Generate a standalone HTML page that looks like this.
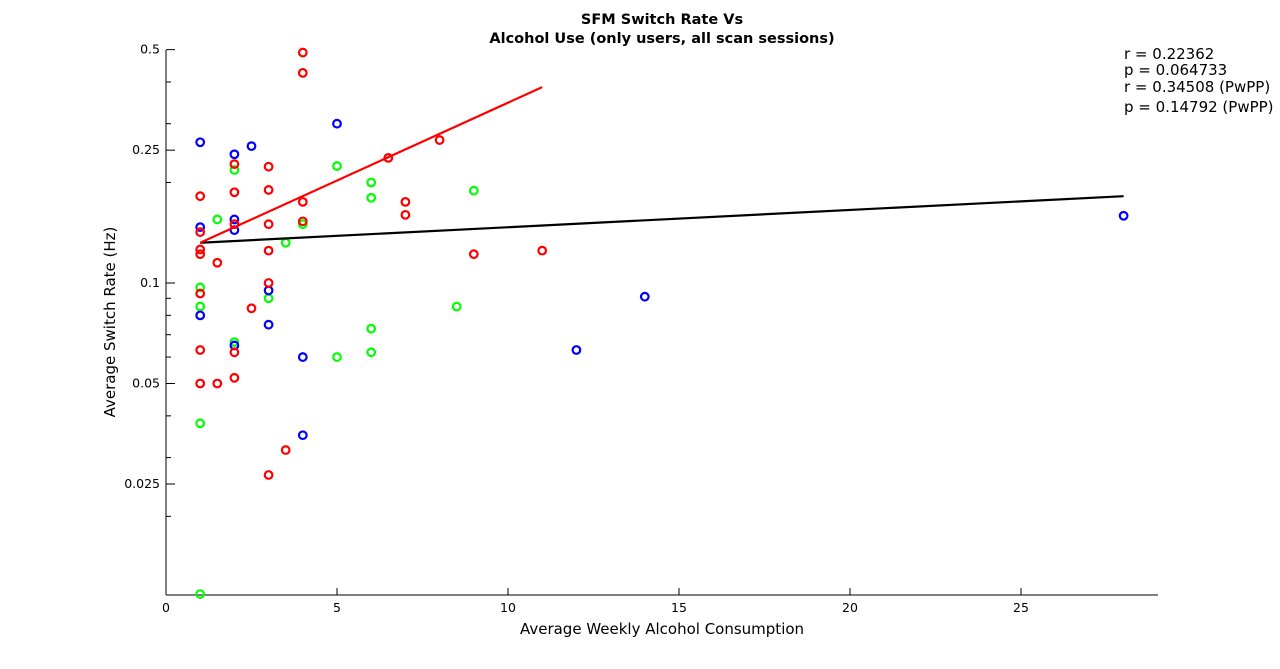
<!DOCTYPE html>
<html><head><meta charset="utf-8"><style>
html,body{margin:0;padding:0;background:#fff;}
svg{display:block;font-family:"DejaVu Sans","Liberation Sans",sans-serif;}
</style></head><body>
<svg id="chart" width="1280" height="669" viewBox="0 0 1280 669">
<g id="axes"></g>
<g id="marks"></g>
<text x="662" y="24" text-anchor="middle" font-size="14.5" font-weight="bold">SFM Switch Rate Vs</text>
<text x="662" y="43" text-anchor="middle" font-size="14.5" font-weight="bold">Alcohol Use (only users, all scan sessions)</text>
<text x="662" y="634" text-anchor="middle" font-size="15">Average Weekly Alcohol Consumption</text>
<text transform="translate(115,322) rotate(-90)" text-anchor="middle" font-size="15">Average Switch Rate (Hz)</text>
<g font-size="15">
<text x="1124" y="59">r = 0.22362</text>
<text x="1124" y="75">p = 0.064733</text>
<text x="1124" y="92">r = 0.34508 (PwPP)</text>
<text x="1124" y="112">p = 0.14792 (PwPP)</text>
</g>
</svg>
<script>
const xTicks=[0,5,10,15,20,25];
const yTicks=[0.5,0.25,0.1,0.05,0.025];
const yTickLabels=["0.5","0.25","0.1","0.05","0.025"];
const yMinor=[0.4,0.3,0.2,0.09,0.08,0.07,0.06,0.04,0.03,0.02];
const redX=[4,4,1,2,2,3,3,4,4,3,2,1,1,1,1.5,3,6.5,8,7,7,9,11,3,1,2.5,1,2,1,1.5,2,3.5,3];
const redY=[0.49,0.426,0.182,0.227,0.187,0.223,0.19,0.175,0.153,0.15,0.15,0.142,0.126,0.122,0.115,0.125,0.237,0.268,0.175,0.16,0.122,0.125,0.1,0.093,0.084,0.063,0.062,0.05,0.05,0.052,0.0316,0.0266];
const blueX=[1,2,2.5,5,2,2,1,3,1,3,2,4,4,28,14,12];
const blueY=[0.264,0.243,0.257,0.30,0.155,0.144,0.147,0.095,0.08,0.075,0.065,0.06,0.035,0.159,0.091,0.063];
const greenX=[2,1.5,4,5,6,6,9,3.5,1,1,3,8.5,2,6,5,6,1,1];
const greenY=[0.218,0.155,0.15,0.224,0.2,0.18,0.189,0.132,0.097,0.085,0.09,0.085,0.0665,0.073,0.06,0.062,0.038,0.0117];
const fitAllX=[1,28];
const fitAllY=[0.132,0.182];
const fitRedX=[1,11];
const fitRedY=[0.132,0.386];

const NS="http://www.w3.org/2000/svg";
const X0=166,PXU=34.2,Y01=283,PXOCT=100.5;
function sx(v){return X0+v*PXU;}
function sy(v){return Y01-Math.log2(v/0.1)*PXOCT;}
function mk(tag,attrs,parent){const e=document.createElementNS(NS,tag);for(const k in attrs)e.setAttribute(k,attrs[k]);parent.appendChild(e);return e;}
const axes=document.getElementById('axes'),marks=document.getElementById('marks');
let l=mk('line',{x1:166,y1:50,x2:166,y2:595,stroke:'#000','stroke-width':1},axes);


l=mk('line',{x1:166,y1:595,x2:1158,y2:595,stroke:'#000','stroke-width':1},axes);


xTicks.forEach(t=>{
  const x=sx(t);
  const tk=mk('line',{x1:x,y1:595,x2:x,y2:588,stroke:'#000'},axes);
  
  
  const tx=mk('text',{x:x,y:612,'text-anchor':'middle','font-size':12.5},axes);
  tx.textContent=String(t);
  
  
});
yTicks.forEach((t,i)=>{
  const y=sy(t);
  const tk=mk('line',{x1:166,y1:y,x2:175,y2:y,stroke:'#000'},axes);
  
  
  const tx=mk('text',{x:160,y:y+4,'text-anchor':'end','font-size':12.5},axes);
  tx.textContent=yTickLabels[i];
  
  
});
yMinor.forEach(t=>{
  const y=sy(t);
  const tk=mk('line',{x1:166,y1:y,x2:171,y2:y,stroke:'#000'},axes);
  
  
});
function series(xs,ys,color,name){
  xs.forEach((x,i)=>{
    const c=mk('circle',{cx:sx(x),cy:sy(ys[i]),r:3.8,fill:'none',stroke:color,'stroke-width':2.2},marks);
    
    
  });
}
series(greenX,greenY,'#00ff00','green-point');
series(blueX,blueY,'#0000ff','blue-point');
series(redX,redY,'#ff0000','red-point');
let f=mk('line',{x1:sx(fitAllX[0]),y1:sy(fitAllY[0]),x2:sx(fitAllX[1]),y2:sy(fitAllY[1]),stroke:'#000','stroke-width':2.2},marks);


f=mk('line',{x1:sx(fitRedX[0]),y1:sy(fitRedY[0]),x2:sx(fitRedX[1]),y2:sy(fitRedY[1]),stroke:'#ff0000','stroke-width':2.2},marks);


</script>
</body></html>
